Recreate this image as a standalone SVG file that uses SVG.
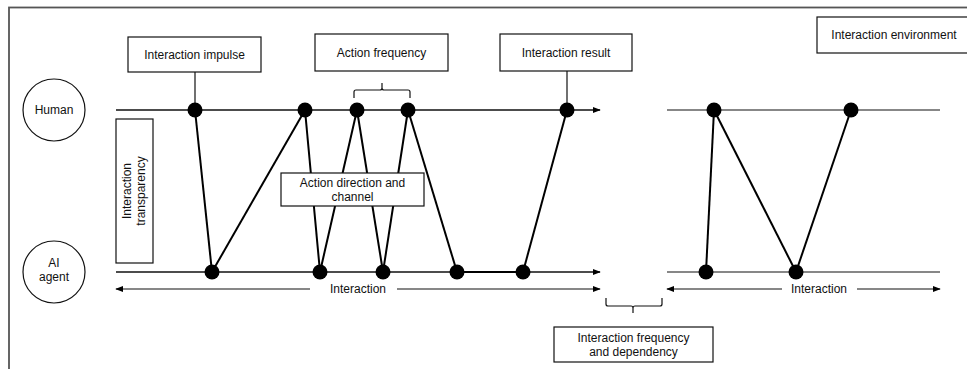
<svg xmlns="http://www.w3.org/2000/svg" width="967" height="369" viewBox="0 0 967 369">
<style>
text{font-family:"Liberation Sans",Arial,sans-serif;font-size:12px;fill:#111;text-anchor:middle}
.box{fill:#fff;stroke:#111;stroke-width:1.2}
.axis{stroke:#111;stroke-width:1.5;fill:none}
.thin{stroke:#111;stroke-width:1.2;fill:none}
.link{stroke:#000;stroke-width:2;fill:none}
.dot{fill:#000}
.brace{stroke:#111;stroke-width:1.2;fill:none}
</style>
<defs>
<marker id="ah" viewBox="0 0 10 10" refX="9" refY="5" markerWidth="8" markerHeight="8" markerUnits="userSpaceOnUse" orient="auto-start-reverse">
<path d="M0,1 L10,5 L0,9 z" fill="#000"/>
</marker>
</defs>
<rect id="frame" x="9" y="7.5" width="980" height="380" fill="none" stroke="#555" stroke-width="1.8"/>

<g id="environment"><rect class="box" x="817" y="17" width="160" height="36"/><text x="894" y="39">Interaction environment</text></g>
<g id="human"><circle class="box" cx="54" cy="110" r="31"/><text x="54" y="114">Human</text></g>
<g id="ai-agent"><circle class="box" cx="54" cy="272" r="31"/><text x="54" y="267">AI</text><text x="54" y="281">agent</text></g>
<g id="transparency"><rect class="box" x="116" y="119" width="37" height="144"/><text transform="translate(134,191) rotate(-90)"><tspan x="0" y="-3">Interaction</tspan><tspan x="0" y="11">transparency</tspan></text></g>

<g id="connectors">
<line class="axis" x1="116" y1="110" x2="600" y2="110" marker-end="url(#ah)"/>
<line class="axis" x1="116" y1="272" x2="600" y2="272" marker-end="url(#ah)"/>
<line class="thin" x1="116" y1="289" x2="310" y2="289" marker-start="url(#ah)"/>
<line class="thin" x1="397" y1="289" x2="600" y2="289" marker-end="url(#ah)"/>
<line class="thin" x1="667" y1="110" x2="940" y2="110"/>
<line class="thin" x1="667" y1="272" x2="940" y2="272"/>
<line class="thin" x1="667" y1="289" x2="782" y2="289" marker-start="url(#ah)"/>
<line class="thin" x1="857" y1="289" x2="940" y2="289" marker-end="url(#ah)"/>
<line class="link" x1="457" y1="272" x2="523" y2="272"/>
<line class="thin" x1="195" y1="72" x2="195" y2="110"/>
<line class="thin" x1="567" y1="71" x2="567" y2="110"/>
<line class="link" x1="195" y1="110" x2="212" y2="272"/>
<line class="link" x1="212" y1="272" x2="305" y2="110"/>
<line class="link" x1="305" y1="110" x2="320" y2="272"/>
<line class="link" x1="320" y1="272" x2="357" y2="110"/>
<line class="link" x1="357" y1="110" x2="383" y2="272"/>
<line class="link" x1="383" y1="272" x2="408" y2="110"/>
<line class="link" x1="408" y1="110" x2="457" y2="272"/>
<line class="link" x1="523" y1="272" x2="567" y2="110"/>
<line class="link" x1="714" y1="110" x2="706" y2="272"/>
<line class="link" x1="714" y1="110" x2="796" y2="272"/>
<line class="link" x1="796" y1="272" x2="851" y2="110"/>
<path class="brace" d="M354,98 V92 Q354,90 356,90 H380 Q382,90 382,88 V83 M382,88 Q382,90 384,90 H408 Q410,90 410,92 V98"/>
<path class="brace" d="M606,298 V304 Q606,306 608,306 H631 Q633,306 633,308 V313 M633,308 Q633,306 635,306 H660 Q662,306 662,304 V298"/>
</g>

<g id="dots">
<circle class="dot" cx="195" cy="110" r="7.5"/>
<circle class="dot" cx="305" cy="110" r="7.5"/>
<circle class="dot" cx="357" cy="110" r="7.5"/>
<circle class="dot" cx="408" cy="110" r="7.5"/>
<circle class="dot" cx="567" cy="110" r="7.5"/>
<circle class="dot" cx="212" cy="272" r="7.5"/>
<circle class="dot" cx="320" cy="272" r="7.5"/>
<circle class="dot" cx="383" cy="272" r="7.5"/>
<circle class="dot" cx="457" cy="272" r="7.5"/>
<circle class="dot" cx="523" cy="272" r="7.5"/>
<circle class="dot" cx="714" cy="110" r="7.5"/>
<circle class="dot" cx="851" cy="110" r="7.5"/>
<circle class="dot" cx="706" cy="272" r="7.5"/>
<circle class="dot" cx="796" cy="272" r="7.5"/>
</g>

<g id="impulse"><rect class="box" x="128" y="37" width="133" height="35"/><text x="194.5" y="59">Interaction impulse</text></g>
<g id="action-frequency"><rect class="box" x="315" y="34" width="133" height="37"/><text x="381.5" y="57">Action frequency</text></g>
<g id="result"><rect class="box" x="500" y="34" width="132" height="37"/><text x="566" y="57">Interaction result</text></g>
<g id="direction"><rect class="box" x="281" y="173" width="143" height="33"/><text x="352.5" y="187">Action direction and</text><text x="352.5" y="201">channel</text></g>
<g id="interaction-label-1"><text x="358" y="293">Interaction</text></g>
<g id="interaction-label-2"><text x="819" y="293">Interaction</text></g>
<g id="frequency-dependency"><rect class="box" x="554" y="327" width="159" height="35"/><text x="633.5" y="342">Interaction frequency</text><text x="633.5" y="356">and dependency</text></g>
</svg>
